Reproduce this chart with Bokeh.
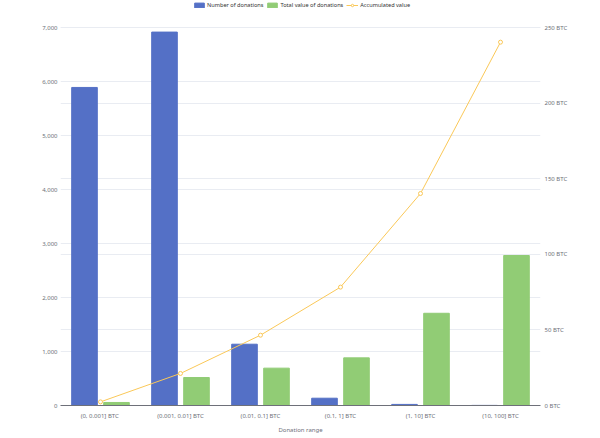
from bokeh.plotting import figure
from bokeh.models import (FactorRange, Range1d, LinearAxis, FixedTicker, NumeralTickFormatter,
                          PrintfTickFormatter, Grid, Legend, LegendItem, ColumnDataSource)
from bokeh.transform import dodge
from bokeh.embed import file_html
from bokeh.resources import INLINE

categories = ["(0, 0.001]  BTC", "(0.001, 0.01] BTC", "(0.01, 0.1] BTC",
              "(0.1, 1] BTC", "(1, 10] BTC", "(10, 100] BTC"]
donations = [5890, 6915, 1135, 135, 20, 2]
total_btc = [2.0, 18.5, 24.7, 31.5, 61.0, 99.2]
accumulated = [2.4, 21.2, 46.5, 78.3, 140.2, 240.3]
left_ticks = [0, 1000, 2000, 3000, 4000, 5000, 6000, 7000]
right_ticks = [0, 50, 100, 150, 200, 250]

# headroom above the top gridline (room for the legend inside the frame)
LEFT_MAX = 7500
RIGHT_MAX = 250 * LEFT_MAX / 7000

FONT = "Noto Sans"
LABEL_COLOR = "#6e7079"
GRID_COLOR = "#e9ecf2"

src = ColumnDataSource(dict(cat=categories, n=donations, v=total_btc, acc=accumulated))

p = figure(width=600, height=438, x_range=FactorRange(*categories, range_padding=0),
           y_range=Range1d(0, LEFT_MAX), output_backend="svg", toolbar_location=None,
           min_border_left=60, min_border_right=60, min_border_top=0, min_border_bottom=33)
p.extra_y_ranges = {"btc": Range1d(0, RIGHT_MAX)}
p.outline_line_color = None
p.background_fill_color = "white"
p.border_fill_color = "white"

# axes
p.xaxis.axis_line_color = LABEL_COLOR
p.xaxis.major_tick_line_color = None
p.xaxis.major_tick_out = 0
p.xaxis.major_tick_in = 0
p.xaxis.minor_tick_line_color = None
p.xaxis.major_label_standoff = 6
p.xaxis.major_label_text_font = FONT
p.xaxis.major_label_text_font_size = "6px"
p.xaxis.major_label_text_color = LABEL_COLOR
p.xaxis.axis_label = "Donation range"
p.xaxis.axis_label_standoff = 3
p.xaxis.axis_label_text_font = FONT
p.xaxis.axis_label_text_font_size = "6px"
p.xaxis.axis_label_text_font_style = "normal"
p.xaxis.axis_label_text_color = LABEL_COLOR

ly = p.yaxis[0]
ly.ticker = FixedTicker(ticks=left_ticks)
ly.formatter = NumeralTickFormatter(format="0,0")
ly.axis_line_color = None
ly.major_tick_line_color = None
ly.minor_tick_line_color = None
ly.major_tick_out = 0
ly.major_tick_in = 0
ly.major_label_standoff = 3
ly.major_label_text_font = FONT
ly.major_label_text_font_size = "6px"
ly.major_label_text_color = LABEL_COLOR

ry = LinearAxis(y_range_name="btc", ticker=FixedTicker(ticks=right_ticks),
                formatter=PrintfTickFormatter(format="%d BTC"))
ry.axis_line_color = None
ry.major_tick_line_color = None
ry.minor_tick_line_color = None
ry.major_tick_out = 0
ry.major_tick_in = 0
ry.major_label_standoff = 4
ry.major_label_text_font = FONT
ry.major_label_text_font_size = "6px"
ry.major_label_text_color = LABEL_COLOR
p.add_layout(ry, "right")

# grids
p.xgrid.grid_line_color = None
p.ygrid.grid_line_color = GRID_COLOR
p.ygrid.ticker = FixedTicker(ticks=left_ticks)
g2 = Grid(dimension=1, ticker=FixedTicker(ticks=right_ticks), y_range_name="btc",
          grid_line_color=GRID_COLOR)
p.add_layout(g2)

# bars
r1 = p.vbar(x=dodge("cat", -0.2, range=p.x_range), top="n", width=0.32, source=src,
            fill_color="#5470c6", line_color="#5470c6")
r2 = p.vbar(x=dodge("cat", 0.2, range=p.x_range), top="v", width=0.32, source=src,
            y_range_name="btc", fill_color="#91cc75", line_color="#91cc75")
r3 = p.line(x="cat", y="acc", source=src, y_range_name="btc", line_color="#fac858", line_width=1)
r4 = p.scatter(x="cat", y="acc", source=src, y_range_name="btc", marker="circle", size=4,
               line_color="#fac858", fill_color="white", line_width=1)

legend = Legend(items=[LegendItem(label="Number of donations", renderers=[r1]),
                       LegendItem(label="Total value of donations", renderers=[r2]),
                       LegendItem(label="Accumulated value", renderers=[r3, r4])],
                orientation="horizontal", location=(133, 396),
                glyph_width=12, glyph_height=6, label_standoff=2, spacing=3,
                padding=0, margin=0, border_line_color=None, background_fill_alpha=0,
                label_text_font=FONT, label_text_font_size="5.6px", label_text_color="#333333",
                label_height=6)
p.add_layout(legend, "center")

open("out.html", "w").write(file_html(p, INLINE))
